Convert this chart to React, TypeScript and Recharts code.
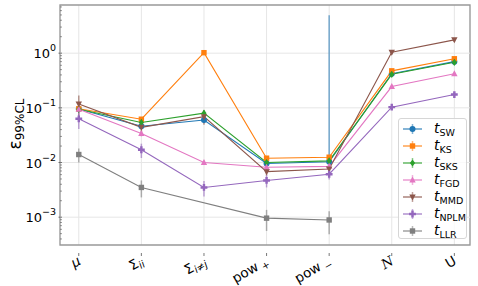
import React from 'react';
import { LineChart, Line, XAxis, YAxis, CartesianGrid, ErrorBar, ReferenceLine, ReferenceArea } from 'recharts';

const tickBase = ['μ', 'Σ', 'Σ', 'pow', 'pow', 'N', 'U'];
const tickSub = ['', 'ii', 'i≠j', '+', '−', '', ''];

const sw = [0.095, 0.046, 0.060, 0.0096, 0.0103, 0.42, 0.70];
const swErr: any[] = [0.01, 0.005, 0.008, 0.001, [0, 4.9], 0.03, 0.05];
const ks = [0.096, 0.062, 1.02, 0.012, 0.0125, 0.475, 0.79];
const ksErr = [0.01, 0.006, 0.05, 0.001, 0.001, 0.03, 0.05];
const sks = [0.094, 0.054, 0.080, 0.0100, 0.0107, 0.41, 0.68];
const sksErr = [0.01, 0.005, 0.01, 0.001, 0.001, 0.03, 0.05];
const fgd = [0.094, 0.034, 0.010, 0.0082, 0.0085, 0.245, 0.42];
const fgdErr = [0.01, 0.004, 0.001, 0.001, 0.001, 0.02, 0.03];
const mmd = [0.118, 0.044, 0.069, 0.0068, 0.0076, 1.04, 1.75];
const mmdErr = [0.05, 0.012, 0.02, 0.001, 0.001, 0.08, 0.15];
const nplm = [0.063, 0.0171, 0.0035, 0.0047, 0.0061, 0.103, 0.175];
const nplmErr = [0.022, 0.005, 0.0011, 0.0012, 0.0012, 0.01, 0.02];
const llr = [0.014, 0.0035, null, 0.00096, 0.00089, null, null];
const llrErr = [0.004, 0.0012, null, 0.0004, 0.0004, null, null];

const YMIN = 3.1e-4;
const YMAX = 7.6;
const FONT = 'DejaVu Sans, sans-serif';

const majorTicks = [1e-3, 1e-2, 1e-1, 1];
const minorTicks: number[] = [];
for (let d = -4; d <= 0; d++) {
  for (let k = 2; k <= 9; k++) {
    const v = k * Math.pow(10, d);
    if (v > YMIN && v < YMAX) minorTicks.push(v);
  }
}

const series = [
  { key: 'sw', sub: 'SW', color: '#1f77b4', shape: 'circle', vals: sw, errs: swErr },
  { key: 'ks', sub: 'KS', color: '#ff7f0e', shape: 'square', vals: ks, errs: ksErr },
  { key: 'sks', sub: 'SKS', color: '#2ca02c', shape: 'diamond', vals: sks, errs: sksErr },
  { key: 'fgd', sub: 'FGD', color: '#e377c2', shape: 'tri', vals: fgd, errs: fgdErr },
  { key: 'mmd', sub: 'MMD', color: '#8c564b', shape: 'triDown', vals: mmd, errs: mmdErr },
  { key: 'nplm', sub: 'NPLM', color: '#9467bd', shape: 'plus', vals: nplm, errs: nplmErr },
  { key: 'llr', sub: 'LLR', color: '#7f7f7f', shape: 'square', vals: llr, errs: llrErr },
];

const data = tickBase.map((_, i) => {
  const row: any = { x: i };
  series.forEach(s => {
    row[s.key] = s.vals[i];
    row[s.key + 'Err'] = s.errs[i];
  });
  return row;
});

const Marker = ({ shape, cx, cy, color }: any) => {
  if (cx == null || cy == null || isNaN(cy)) return null;
  switch (shape) {
    case 'circle':
      return <circle cx={cx} cy={cy} r={3} fill={color} />;
    case 'square':
      return <rect x={cx - 2.7} y={cy - 2.7} width={5.4} height={5.4} fill={color} />;
    case 'diamond':
      return <polygon points={`${cx},${cy - 3.6} ${cx + 2.6},${cy} ${cx},${cy + 3.6} ${cx - 2.6},${cy}`} fill={color} />;
    case 'tri':
      return <polygon points={`${cx},${cy - 3.5} ${cx + 3.2},${cy + 2.5} ${cx - 3.2},${cy + 2.5}`} fill={color} />;
    case 'triDown':
      return <polygon points={`${cx},${cy + 3.5} ${cx + 3.2},${cy - 2.5} ${cx - 3.2},${cy - 2.5}`} fill={color} />;
    case 'plus': {
      const a = 3.4, b = 1.2;
      return (
        <polygon
          points={`${cx - b},${cy - a} ${cx + b},${cy - a} ${cx + b},${cy - b} ${cx + a},${cy - b} ${cx + a},${cy + b} ${cx + b},${cy + b} ${cx + b},${cy + a} ${cx - b},${cy + a} ${cx - b},${cy + b} ${cx - a},${cy + b} ${cx - a},${cy - b} ${cx - b},${cy - b}`}
          fill={color}
        />
      );
    }
    default:
      return null;
  }
};

const XTick = ({ x, y, payload }: any) => {
  const i = payload.value;
  const italic = i === 0 || i === 5;
  return (
    <g>
      <line x1={x} y1={y} x2={x} y2={y + 3} stroke="#555" strokeWidth={0.8} />
      <g transform={`translate(${x - 2},${y + 2})`}>
        <text transform="rotate(-30)" textAnchor="end" y={10} fontSize={13.5} fontFamily={i === 5 ? 'DejaVu Serif, serif' : FONT} fill="#000">
          <tspan fontStyle={italic ? 'italic' : 'normal'}>{tickBase[i]}</tspan>
          {tickSub[i] && (
            <tspan fontSize={10} dy={3} fontStyle={i < 3 ? 'italic' : 'normal'}>{i >= 3 ? ' ' : ''}{tickSub[i]}</tspan>
          )}
        </text>
      </g>
    </g>
  );
};

const YTick = ({ x, y, payload }: any) => {
  const v = payload.value;
  const isMajor = majorTicks.some(m => Math.abs(m - v) / m < 1e-6);
  if (!isMajor) {
    return <line x1={x + 8} y1={y} x2={x + 10} y2={y} stroke="#555" strokeWidth={0.6} />;
  }
  const exp = Math.round(Math.log10(v));
  return (
    <g>
      <line x1={x + 6.5} y1={y} x2={x + 10} y2={y} stroke="#555" strokeWidth={0.8} />
      <text x={x + 4} y={y + 5} textAnchor="end" fontSize={13} fontFamily={FONT} fill="#000">
        10
        <tspan fontSize={9.5} dy={-7}>{exp === 0 ? '0' : '−' + Math.abs(exp)}</tspan>
      </text>
    </g>
  );
};

const LegendBox = () => (
  <div style={{ position: 'absolute', left: 398, top: 118, width: 69, height: 121, background: 'rgba(255,255,255,0.8)', border: '1px solid #d6d6d6', borderRadius: 3, boxSizing: 'border-box' }}>
    <svg width={69} height={121}>
      {series.map((s, i) => {
        const cy = 10 + i * 17;
        return (
          <g key={s.key}>
            <line x1={4} y1={cy} x2={23} y2={cy} stroke={s.color} strokeWidth={2} strokeOpacity={0.55} />
            <line x1={13.5} y1={cy - 5} x2={13.5} y2={cy + 5} stroke={s.color} strokeWidth={1.5} strokeOpacity={0.55} />
            <Marker shape={s.shape} cx={13.5} cy={cy} color={s.color} />
            <text x={35} y={cy + 4} fontSize={14} fontFamily={FONT} fontStyle="italic" fill="#000">
              t<tspan fontSize={9.5} fontStyle="normal" dy={3}>{s.sub}</tspan>
            </text>
          </g>
        );
      })}
    </svg>
  </div>
);

export default function App() {
  return (
    <div style={{ position: 'fixed', left: 0, top: 0, width: 478, height: 286, background: '#fff' }}>
      <LineChart width={478} height={286} data={data} margin={{ top: 5, right: 8, bottom: 0, left: 0 }}>
        <CartesianGrid horizontal={false} stroke="#e6e6e6" strokeWidth={1} />
        {majorTicks.map(t => (
          <ReferenceLine key={t} y={t} stroke="#e6e6e6" strokeWidth={1} />
        ))}
        <XAxis
          type="number"
          dataKey="x"
          domain={[-0.3, 6.25]}
          ticks={[0, 1, 2, 3, 4, 5, 6]}
          allowDataOverflow
          height={41}
          tickLine={false}
          axisLine={false}
          tick={<XTick />}
          interval={0}
        />
        <YAxis
          scale="log"
          domain={[YMIN, YMAX]}
          allowDataOverflow
          ticks={[...majorTicks, ...minorTicks].sort((a, b) => a - b)}
          width={60}
          tickLine={false}
          axisLine={false}
          tick={<YTick />}
          interval={0}
        />
        <ReferenceArea x1={-0.3} x2={6.25} y1={YMIN} y2={YMAX} fill="none" stroke="#999" strokeWidth={1.3} />
        {series.map(s => (
          <Line
            key={s.key}
            dataKey={s.key}
            stroke={s.color}
            strokeWidth={1.1}
            connectNulls
            isAnimationActive={false}
            dot={(p: any) => <Marker key={p.index} shape={s.shape} cx={p.cx} cy={p.cy} color={s.color} />}
            activeDot={false}
          >
            <ErrorBar dataKey={s.key + 'Err'} width={0} stroke={s.color} strokeWidth={1.5} strokeOpacity={0.6} direction="y" />
          </Line>
        ))}
        <text transform="rotate(-90, 21, 124)" x={21} y={124} textAnchor="middle" fontFamily={FONT} fill="#000">
          <tspan fontSize={17}>ε</tspan>
          <tspan fontSize={12} dy={3}>99%CL</tspan>
        </text>
      </LineChart>
      <LegendBox />
    </div>
  );
}
